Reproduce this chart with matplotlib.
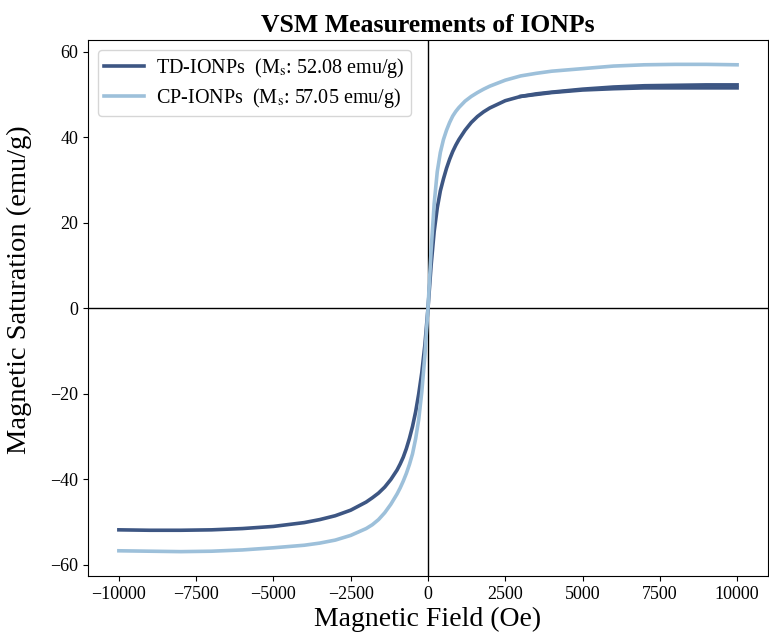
import matplotlib
matplotlib.use("Agg")
import matplotlib.pyplot as plt

plt.rcParams['font.family'] = ['Liberation Serif', 'DejaVu Serif']
plt.rcParams['mathtext.fontset'] = 'stix'

# Field values (Oe)
field = [-10000, -9000, -8000, -7000, -6000, -5000, -4000, -3500, -3000, -2500,
         -2000, -1800, -1600, -1400, -1200, -1000, -900, -800, -700, -600, -500,
         -400, -300, -200, -100, 0, 100, 200, 300, 400, 500, 600, 700, 800, 900,
         1000, 1200, 1400, 1600, 1800, 2000, 2500, 3000, 3500, 4000, 5000, 6000,
         7000, 8000, 9000, 10000]

# TD-IONPs magnetization (emu/g)
td = [-51.8, -51.9, -51.9, -51.8, -51.5, -51.0, -50.1, -49.4, -48.5, -47.2,
      -45.3, -44.3, -43.2, -41.8, -40.0, -37.8, -36.4, -34.8, -32.8, -30.4, -27.6,
      -24.2, -20.0, -15.0, -8.5, 0.0, 10.0, 18.0, 23.5, 27.5, 30.3, 32.8, 34.9, 36.7, 38.2,
      39.5, 41.7, 43.5, 44.9, 46.0, 46.9, 48.6, 49.6, 50.2, 50.6, 51.3, 51.8,
      52.1, 52.2, 52.3, 52.3]

# TD-IONPs return branch at high field (emu/g)
td_ret_field = [3000, 4000, 5000, 6000, 7000, 8000, 9000, 10000]
td_ret = [49.6, 50.5, 51.1, 51.4, 51.6, 51.6, 51.6, 51.6]

# CP-IONPs magnetization (emu/g)
cp = [-56.7, -56.8, -56.9, -56.8, -56.5, -56.0, -55.4, -54.9, -54.2, -53.1,
      -51.5, -50.6, -49.4, -47.8, -45.8, -43.4, -42.0, -40.4, -38.6, -36.5, -34.0,
      -30.5, -26.0, -19.5, -11.0, 0.0, 13.5, 24.5, 32.0, 36.5, 39.5, 41.7, 43.5, 45.0, 46.1,
      47.0, 48.5, 49.6, 50.5, 51.3, 52.0, 53.4, 54.4, 55.0, 55.5, 56.1, 56.7,
      57.0, 57.1, 57.1, 57.0]

labels = ['TD-IONPs  (M$_\\mathrm{s}$: 52.08 emu/g)',
          'CP-IONPs  (M$_\\mathrm{s}$: 57.05 emu/g)']
colors = ['#3d5683', '#9dc0da']

fig = plt.figure(figsize=(7.69, 6.4), dpi=100)
ax = fig.add_axes([0.1144, 0.1, 0.8843, 0.8375])

ax.plot(field, td, color=colors[0], lw=2.6, label=labels[0], solid_joinstyle='round')
ax.plot(td_ret_field, td_ret, color=colors[0], lw=2.6, solid_joinstyle='round')
ax.plot(field, cp, color=colors[1], lw=2.6, label=labels[1], solid_joinstyle='round')

ax.axhline(0, color='black', lw=1.0, zorder=0)
ax.axvline(0, color='black', lw=1.0, zorder=0)

ax.set_xticks([-10000, -7500, -5000, -2500, 0, 2500, 5000, 7500, 10000])
ax.set_yticks([-60, -40, -20, 0, 20, 40, 60])
ax.tick_params(labelsize=13)

ax.set_xlabel('Magnetic Field (Oe)', fontsize=20, labelpad=3)
ax.set_ylabel('Magnetic Saturation (emu/g)', fontsize=20.5)
ax.yaxis.set_label_coords(-0.082, 0.534)
ax.set_title('VSM Measurements of IONPs', fontsize=18.5, fontweight='bold', pad=6)

ax.legend(loc='upper left', fontsize=14.5, handlelength=2.0, handletextpad=0.6,
          borderpad=0.3, labelspacing=0.3)

fig.savefig('out.png', dpi=100)
